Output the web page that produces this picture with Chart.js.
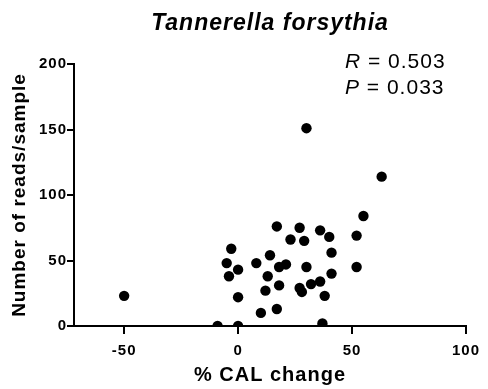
<!DOCTYPE html>
<html>
<head>
<meta charset="utf-8">
<script src="https://cdn.jsdelivr.net/npm/chart.js@4.4.1/dist/chart.umd.min.js"></script>
<style>
  html, body { margin: 0; padding: 0; background: #fff; }
  #wrap { width: 488px; height: 389px; }
</style>
</head>
<body>
<div id="wrap"><canvas id="scatter" width="488" height="389"></canvas></div>
<script>
// % CAL change vs reads per sample
const calChange = [-50, -9, 0, -3, -5, -4, 0, 0, 8, 10, 12, 13, 14, 17, 18, 18, 17, 21, 23, 27, 29, 30, 30, 27, 28, 32, 36, 36, 40, 41, 41, 38, 37, 52, 52, 55, 63];
const readsPerSample = [23, 0, 0, 59, 48, 38, 43, 22, 48, 10, 27, 38, 54, 76, 45, 31, 13, 47, 66, 75, 65, 151, 45, 29, 26, 32, 34, 73, 68, 56, 40, 23, 2, 69, 45, 84, 114];
const xTicks = [-50, 0, 50, 100];
const yTicks = [0, 50, 100, 150, 200];

const points = calChange.map((x, i) => ({ x: x, y: readsPerSample[i] }));

const FAMILY = "Liberation Sans, Arial, sans-serif";
const tickFont = { family: FAMILY, size: 15, weight: "bold" };
const xTitleFont = { family: FAMILY, size: 20, weight: "bold" };
const yTitleFont = { family: FAMILY, size: 19, weight: "bold" };

// the original lettering is a little wider than Arial, so space it out
const letterSpacing = {
  id: "letterSpacing",
  beforeUpdate(chart) { chart.ctx.letterSpacing = "1px"; },
  beforeDraw(chart) { chart.ctx.letterSpacing = "1px"; },
};

// R / P annotation in the top right corner
const statsLabel = {
  id: "statsLabel",
  afterDraw(chart) {
    const ctx = chart.ctx;
    ctx.save();
    ctx.fillStyle = "#000";
    ctx.textBaseline = "alphabetic";
    ctx.letterSpacing = "1px";
    const lines = [["R", " = 0.503", 68], ["P", " = 0.033", 94]];
    lines.forEach(([sym, rest, y]) => {
      ctx.font = "italic 21px " + FAMILY;
      ctx.fillText(sym, 345, y);
      const w = ctx.measureText(sym).width;
      ctx.font = "21px " + FAMILY;
      ctx.fillText(rest, 345 + w, y);
    });
    ctx.restore();
  }
};

new Chart(document.getElementById("scatter"), {
  type: "scatter",
  data: {
    datasets: [{
      data: points,
      backgroundColor: "#000",
      borderColor: "#000",
      borderWidth: 0,
      pointRadius: 5.2,
      pointHoverRadius: 5.2,
    }],
  },
  options: {
    responsive: false,
    animation: false,
    layout: { padding: { left: 0, right: 20, top: 0, bottom: 0 } },
    scales: {
      x: {
        type: "linear",
        min: -72,
        max: 100,
        afterBuildTicks: (axis) => { axis.ticks = xTicks.map(v => ({ value: v })); },
        afterFit: (axis) => { axis.height = 63; },
        ticks: { color: "#000", font: tickFont, padding: 8, maxRotation: 0 },
        grid: { drawOnChartArea: false, drawTicks: true, tickLength: 8, color: "#000", lineWidth: 2 },
        border: { display: true, color: "#000", width: 2 },
        title: { display: true, text: "% CAL change", color: "#000", font: xTitleFont, padding: { top: 0, bottom: 2 } },
      },
      y: {
        type: "linear",
        min: 0,
        max: 200,
        afterBuildTicks: (axis) => { axis.ticks = yTicks.map(v => ({ value: v })); },
        afterFit: (axis) => { axis.width = 74; },
        ticks: { color: "#000", font: tickFont, padding: 0 },
        grid: { drawOnChartArea: false, drawTicks: true, tickLength: 7, color: "#000", lineWidth: 2 },
        border: { display: true, color: "#000", width: 2 },
        title: { display: true, text: "Number of reads/sample", color: "#000", font: yTitleFont, padding: { top: 8.5, bottom: 0 } },
      },
    },
    plugins: {
      legend: { display: false },
      tooltip: { enabled: false },
      title: {
        display: true,
        fullSize: false,
        text: "Tannerella forsythia",
        color: "#000",
        font: { family: FAMILY, size: 23, weight: "bold", style: "italic" },
        padding: { top: 10, bottom: 26.4 },
      },
    },
  },
  plugins: [letterSpacing, statsLabel],
});
</script>
</body>
</html>
